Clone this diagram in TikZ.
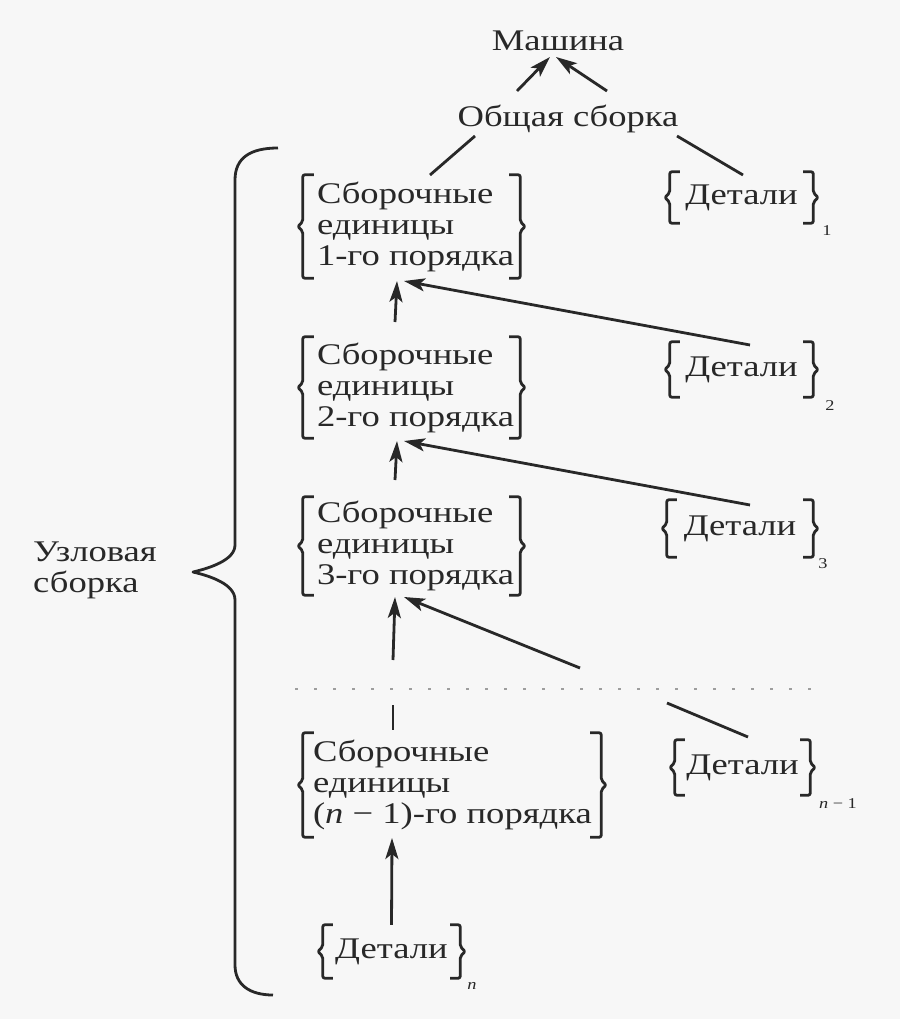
\documentclass[tikz,border=0pt]{standalone}
\usepackage{fontspec}
\setmainfont{Liberation Serif}[FakeStretch=1.22]
\usetikzlibrary{arrows.meta,calc}
\definecolor{ink}{RGB}{40,40,40}
\definecolor{bg}{RGB}{247,247,247}
\tikzset{
  t/.style={text=ink, font=\fontsize{30}{31}\selectfont, inner sep=0pt},
  ml/.style={t, align=left, anchor=west},
  sub/.style={text=ink, font=\fontsize{15}{16}\selectfont, inner sep=0pt},
  frame/.style={draw=none, inner sep=0pt},
  brk/.style={draw=ink, line width=2.8pt, line join=round, rounded corners=2pt},
  con/.style={draw=ink, line width=2.8pt},
  arr/.style={con, -{Stealth[length=21pt,width=13pt,inset=5pt]}},
  dots/.style={draw=ink!45, line width=2.2pt, dash pattern=on 2.5pt off 16.5pt},
}
\newcommand\bracks[3]{%
  \draw[brk] ($(#1.north west)+(#2,0)$) -- (#1.north west) -- ($(#1.west)+(0,-#3)$) -- ($(#1.west)+(-#3,0)$) -- ($(#1.west)+(0,#3)$) -- (#1.south west) -- ($(#1.south west)+(#2,0)$);
  \draw[brk] ($(#1.north east)+(-#2,0)$) -- (#1.north east) -- ($(#1.east)+(0,-#3)$) -- ($(#1.east)+(#3,0)$) -- ($(#1.east)+(0,#3)$) -- (#1.south east) -- ($(#1.south east)+(-#2,0)$);
}
\begin{document}
\begin{tikzpicture}[x=1pt,y=-1pt]
\fill[bg] (0,0) rectangle (900,1019);
\useasboundingbox (0,0) rectangle (900,1019);

% top
\node[t] (mash) at (558,41) {Машина};
\node[t] (gs) at (568,119) {Общая сборка};

% assembly unit frames
\node[frame, minimum width=217pt, minimum height=103pt] (b1) at (411.5,226.5) {};
\node[ml] (b1t) at ([xshift=14pt]b1.west) {Сборочные\\единицы\\1-го порядка};
\node[frame, minimum width=217pt, minimum height=101pt] (b2) at (411.5,387.5) {};
\node[ml] (b2t) at ([xshift=14pt]b2.west) {Сборочные\\единицы\\2-го порядка};
\node[frame, minimum width=217pt, minimum height=98pt] (b3) at (411.5,546) {};
\node[ml] (b3t) at ([xshift=14pt]b3.west) {Сборочные\\единицы\\3-го порядка};
\node[frame, minimum width=298pt, minimum height=104pt] (bn) at (452,785) {};
\node[ml] (bnt) at ([xshift=10pt]bn.west) {Сборочные\\единицы\\(\textit{n} − 1)-го порядка};
\bracks{b1}{11}{5}
\bracks{b2}{11}{5}
\bracks{b3}{11}{5}
\bracks{bn}{11}{5}

% details
\node[t, minimum width=143pt, minimum height=51pt] (d1) at (741.5,197.5) {Детали};
\node[t, minimum width=143pt, minimum height=55pt] (d2) at (741.5,369.5) {Детали};
\node[t, minimum width=146pt, minimum height=57pt] (d3) at (740,528.5) {Детали};
\node[t, minimum width=135pt, minimum height=55pt] (dn1) at (742.5,767.5) {Детали};
\node[t, minimum width=137pt, minimum height=53pt] (dn) at (391.5,951.5) {Детали};
\bracks{d1}{10}{5}
\bracks{d2}{10}{5}
\bracks{d3}{10}{5}
\bracks{dn1}{10}{5}
\bracks{dn}{10}{5}
\node[sub] (s1) at (827,231) {1};
\node[sub] (s2) at (830,406) {2};
\node[sub] (s3) at (823,564) {3};
\node[sub] (sn1) at (838,804) {\textit{n} − 1};
\node[sub] (sn) at (472,986) {\textit{n}};

% connector coordinates
\coordinate (ga) at (517,91);  \coordinate (ma) at (550,57);
\coordinate (gb) at (607,91);  \coordinate (mb) at (556,57);
\coordinate (gl) at (475,136); \coordinate (b1top) at (430,175);
\coordinate (gr) at (677,136); \coordinate (d1top) at (743,175);
\coordinate (v1) at (395,322); \coordinate (t1a) at (397,281); \coordinate (t1b) at (404,281);
\coordinate (e2) at (750,345);
\coordinate (v2) at (395,480); \coordinate (t2a) at (397,441); \coordinate (t2b) at (404,441);
\coordinate (e3) at (750,505);
\coordinate (v3) at (393,660); \coordinate (t3a) at (395,597); \coordinate (t3b) at (404,597);
\coordinate (e4) at (580,668);
\coordinate (sa) at (393,705); \coordinate (sb) at (393,730);
\coordinate (la) at (667,703); \coordinate (lb) at (748,737);
\coordinate (tn) at (392,838);
\coordinate (dl) at (295,689); \coordinate (dr) at (825,689);

\draw[arr] (ga) -- (ma);
\draw[arr] (gb) -- (mb);
\draw[con] (gl) -- (b1top);
\draw[con] (gr) -- (d1top);
\draw[arr] (v1) -- (t1a);
\draw[arr] (e2) -- (t1b);
\draw[arr] (v2) -- (t2a);
\draw[arr] (e3) -- (t2b);
\draw[arr] (v3) -- (t3a);
\draw[arr] (e4) -- (t3b);
\draw[con] (sa) -- (sb);
\draw[con] (la) -- (lb);
\draw[arr] (dn.north) -- (tn);
\draw[dots] (dl) -- (dr);

% big brace
\draw[brk, rounded corners=0pt] (278,148) .. controls (250,148) and (235,158) .. (235,180) -- (235,545) .. controls (235,560) and (210,568) .. (193,572) .. controls (210,576) and (235,584) .. (235,600) -- (235,965) .. controls (235,985) and (250,995) .. (273,995);
\node[ml] (uz) at (33,570) {Узловая\\сборка};
\end{tikzpicture}
\end{document}
